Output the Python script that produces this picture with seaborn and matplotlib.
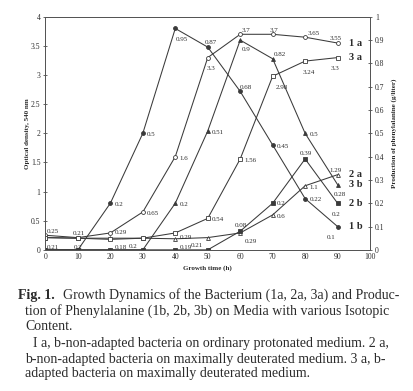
import pandas as pd
import matplotlib.pyplot as plt
import seaborn as sns

# =========================
# DATOS
# =========================
hours = [0, 10, 20, 30, 40, 50, 60, 70, 80, 90]

# densidad optica (eje izquierdo)
od_1a = [0.25, 0.21, 0.29, 0.65, 1.6, 3.3, 3.7, 3.7, 3.65, 3.55]
od_2a = [0.21, 0.2, 0.2, 0.2, 0.19, 0.21, 0.29, 0.6, 1.1, 1.29]
od_3a = [0.21, 0.2, 0.18, 0.2, 0.29, 0.54, 1.56, 2.98, 3.24, 3.3]

# fenilalanina (eje derecho)
phe_1b = [0, 0, 0.2, 0.5, 0.95, 0.87, 0.68, 0.45, 0.22, 0.1]
phe_2b = [0, 0, 0, 0, 0, 0, 0.08, 0.2, 0.39, 0.2]
phe_3b = [0, 0, 0, 0, 0.2, 0.51, 0.9, 0.82, 0.5, 0.28]

x_ticks = list(range(0, 101, 10))
od_ticks = [0, 0.5, 1, 1.5, 2, 2.5, 3, 3.5, 4]
phe_ticks = [0, 0.1, 0.2, 0.3, 0.4, 0.5, 0.6, 0.7, 0.8, 0.9, 1]

caption_lines = [
    "Growth Dynamics of the Bacterium (1a, 2a, 3a) and Produc-",
    "tion of Phenylalanine (1b, 2b, 3b) on Media with various Isotopic",
    "Content.",
    "I a, b-non-adapted bacteria on ordinary protonated medium. 2 a,",
    "b-non-adapted bacteria on maximally deuterated medium. 3 a, b-",
    "adapted bacteria on maximally deuterated medium.",
]

# =========================
# ESTILO
# =========================
sns.set_style("white")
plt.rcParams["font.family"] = ["Liberation Serif", "DejaVu Serif"]
ink = "#3a3a3a"
text_ink = "#2b2b2b"

fig = plt.figure(figsize=(4.13, 3.91), dpi=100)
ax = fig.add_axes([0.110, 0.361, 0.786, 0.596])
ax2 = ax.twinx()

df_a = pd.DataFrame({"hours": hours, "1a": od_1a, "2a": od_2a, "3a": od_3a})
df_b = pd.DataFrame({"hours": hours, "1b": phe_1b, "2b": phe_2b, "3b": phe_3b})

# (serie, marcador, relleno)
a_series = [("1a", "o", "white"), ("2a", "^", "white"), ("3a", "s", "white")]
b_series = [("1b", "o", ink), ("2b", "s", ink), ("3b", "^", ink)]

for name, mk, fc in a_series:
    sns.lineplot(data=df_a, x="hours", y=name, ax=ax, color=ink, lw=0.75,
                 marker=mk, markersize=2.8, markerfacecolor=fc,
                 markeredgecolor=ink, markeredgewidth=0.6)
for name, mk, fc in b_series:
    sns.lineplot(data=df_b, x="hours", y=name, ax=ax2, color=ink, lw=0.75,
                 marker=mk, markersize=2.8, markerfacecolor=fc,
                 markeredgecolor=ink, markeredgewidth=0.6)

# -------------------------
# etiquetas de valores (desplazamiento en puntos)
# -------------------------
offsets = {
    "1a": [(1, 3), (-4, 3), (3, 0), (3, -1), (3, -1), (-1, -8), (1, 3), (-2, 3), (2, 3), (-6, 3)],
    "2a": [None, None, None, None, (3, -6), (-12, -6), (3, -6), (3, -1), (3, -1), (-6, 3)],
    "3a": [(1, -7), (-3, -7), (3, -6), (-10, -6), (3, -3), (3, -1), (3, -1), (2, -8), (-2, -8), (-5, -8)],
    "1b": [None, None, (3, -1), (3, -1), (0, -8), (-2, 3), (0, 3), (3, -1), (3, -1), (-8, -8)],
    "2b": [None, None, None, None, None, None, (-4, 4), (3, 0), (-4, 4), (-4, -8)],
    "3b": [None, None, None, None, (3, -1), (3, -1), (1, -7), (1, 3), (3, -1), (-3, -7)],
}

for name, values, axis in [("1a", od_1a, ax), ("2a", od_2a, ax), ("3a", od_3a, ax),
                           ("1b", phe_1b, ax2), ("2b", phe_2b, ax2), ("3b", phe_3b, ax2)]:
    for h, v, off in zip(hours, values, offsets[name]):
        if off is None:
            continue
        axis.annotate(f"{v:g}", (h, v), xytext=off, textcoords="offset points",
                      fontsize=5, color=text_ink, va="center", ha="left")

# nombres de las curvas
for name, values, axis in [("1a", od_1a, ax), ("2a", od_2a, ax), ("3a", od_3a, ax),
                           ("1b", phe_1b, ax2), ("2b", phe_2b, ax2), ("3b", phe_3b, ax2)]:
    axis.annotate(f"{name[0]} {name[1]}", (hours[-1], values[-1]), xytext=(8, 0),
                  textcoords="offset points", fontsize=7.5, fontweight="bold",
                  color=text_ink, va="center", ha="left")

# -------------------------
# ejes
# -------------------------
ax.set_xlim(0, 100)
ax.set_ylim(0, 4)
ax2.set_ylim(0, 1)
ax.set_xticks(x_ticks)
ax.set_yticks(od_ticks)
ax.set_yticklabels([f"{t:g}" for t in od_ticks])
ax2.set_yticks(phe_ticks)
ax2.set_yticklabels([f"{t:g}" for t in phe_ticks])

ax.set_xlabel("Growth time (h)", fontsize=5, fontweight="bold", color=text_ink, labelpad=3)
ax.set_ylabel("Optical density, 540 nm", fontsize=5, fontweight="bold", color=text_ink, labelpad=1)
ax2.set_ylabel("Production of phenylalanine (g/liter)", fontsize=5, fontweight="bold",
               color=text_ink, labelpad=5)

for a in (ax, ax2):
    a.tick_params(labelsize=5.5, colors=text_ink, length=3, width=0.5, direction="inout", pad=2)
    for sp in a.spines.values():
        sp.set_color("#555555")
        sp.set_linewidth(0.7)
ax.tick_params(axis="x", direction="in", length=2)

# -------------------------
# pie de figura
# -------------------------
fig.text(0.044, 1 - 295 / 391, "Fig. 1.", fontsize=10, fontweight="bold",
         color=text_ink, va="center")
line_pos = [(63, 295), (25, 311), (25, 327), (33, 344), (25, 359), (25, 374)]
for (px, py), line in zip(line_pos, caption_lines):
    fig.text(px / 413, 1 - py / 391, line, fontsize=10, color=text_ink, va="center")

fig.savefig("out.png", dpi=100)
